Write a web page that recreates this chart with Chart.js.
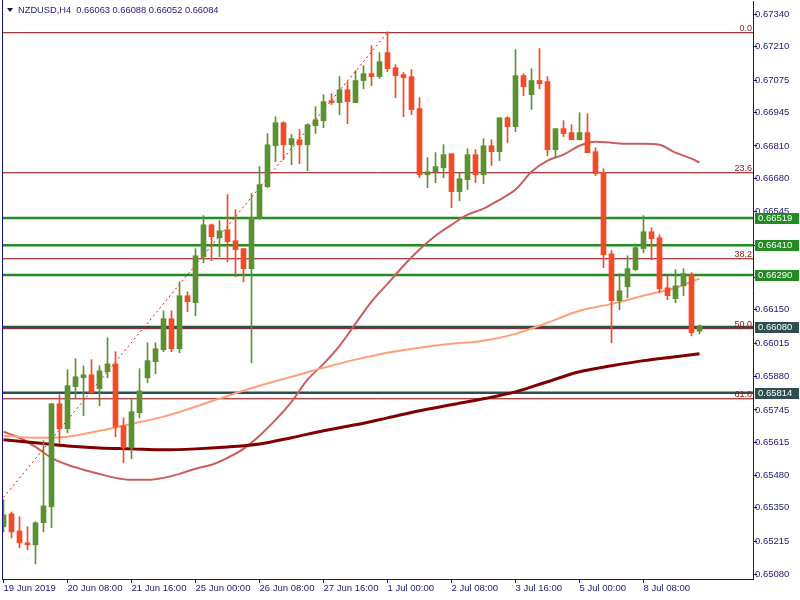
<!DOCTYPE html>
<html>
<head>
<meta charset="utf-8">
<script src="https://cdn.jsdelivr.net/npm/chart.js@4.4.1/dist/chart.umd.min.js"></script>
<style>
  html, body { margin: 0; padding: 0; background: #fff; }
  #wrap { width: 800px; height: 600px; }
</style>
</head>
<body>
<div id="wrap"><canvas id="grafiek"></canvas></div>
<script>
// NZDUSD H4 candles, index 0 = 19 Jun 2019 00:00
const OPEN = [0.65274,0.65326,0.65257,0.65209,0.65201,0.65290,0.65354,0.65770,0.65669,0.65839,
  0.65875,0.65887,0.65831,0.65899,0.65931,0.65681,0.65592,0.65734,0.65875,0.65940,
  0.65988,0.66113,0.65992,0.66206,0.66178,0.66363,0.66492,0.66440,0.66472,0.66428,
  0.66396,0.66315,0.66517,0.66646,0.66811,0.66904,0.66815,0.66835,0.66815,0.66892,
  0.66912,0.66993,0.66985,0.67037,0.66985,0.67074,0.67102,0.67090,0.67187,0.67126,
  0.67098,0.67090,0.66961,0.66694,0.66706,0.66722,0.66779,0.66626,0.66674,0.66775,
  0.66694,0.66811,0.66787,0.66924,0.66888,0.67094,0.67017,0.67074,0.67070,0.66795,
  0.66880,0.66864,0.66835,0.66864,0.66787,0.66702,0.66375,0.66186,0.66242,0.66311,
  0.66396,0.66464,0.66440,0.66238,0.66194,0.66246,0.66291,0.66063];
const HIGH = [0.65383,0.65334,0.65314,0.65274,0.65294,0.65621,0.65770,0.65806,0.65907,0.65952,
  0.65923,0.65948,0.65923,0.66036,0.65980,0.65713,0.65790,0.65911,0.66016,0.66016,
  0.66145,0.66145,0.66262,0.66222,0.66396,0.66529,0.66496,0.66509,0.66614,0.66553,
  0.66396,0.66618,0.66727,0.66860,0.66928,0.66908,0.66856,0.66876,0.66900,0.66969,
  0.67017,0.67021,0.67090,0.67070,0.67114,0.67134,0.67215,0.67187,0.67271,0.67138,
  0.67106,0.67118,0.67005,0.66763,0.66783,0.66815,0.66779,0.66702,0.66799,0.66795,
  0.66840,0.66835,0.66924,0.66928,0.67199,0.67102,0.67122,0.67203,0.67090,0.66880,
  0.66912,0.66896,0.66944,0.66940,0.66803,0.66718,0.66388,0.66295,0.66367,0.66416,
  0.66529,0.66480,0.66452,0.66287,0.66311,0.66315,0.66299,0.66088];
const LOW = [0.65253,0.65229,0.65189,0.65181,0.65124,0.65253,0.65270,0.65609,0.65653,0.65794,
  0.65722,0.65814,0.65762,0.65875,0.65637,0.65532,0.65548,0.65713,0.65855,0.65891,
  0.65980,0.65980,0.65976,0.66141,0.66125,0.66339,0.66347,0.66363,0.66343,0.66283,
  0.66262,0.65935,0.66513,0.66642,0.66747,0.66755,0.66735,0.66739,0.66710,0.66860,
  0.66884,0.66977,0.66936,0.66900,0.66985,0.67041,0.67053,0.67082,0.67110,0.67005,
  0.66928,0.66936,0.66682,0.66642,0.66662,0.66682,0.66561,0.66589,0.66634,0.66662,
  0.66658,0.66731,0.66751,0.66823,0.66868,0.67013,0.66957,0.67041,0.66771,0.66767,
  0.66848,0.66835,0.66835,0.66783,0.66690,0.66319,0.66016,0.66149,0.66198,0.66307,
  0.66379,0.66351,0.66218,0.66190,0.66178,0.66206,0.66044,0.66052];
const CLOSE = [0.65322,0.65253,0.65209,0.65201,0.65290,0.65358,0.65770,0.65669,0.65843,0.65879,
  0.65887,0.65814,0.65903,0.65931,0.65677,0.65592,0.65738,0.65822,0.65944,0.65992,
  0.66113,0.65992,0.66206,0.66182,0.66367,0.66492,0.66444,0.66468,0.66424,0.66392,
  0.66315,0.66521,0.66654,0.66815,0.66904,0.66815,0.66840,0.66815,0.66896,0.66916,
  0.66989,0.66985,0.67037,0.66989,0.67074,0.67102,0.67090,0.67150,0.67122,0.67094,
  0.67086,0.66957,0.66694,0.66706,0.66727,0.66775,0.66626,0.66678,0.66775,0.66694,
  0.66811,0.66787,0.66924,0.66888,0.67094,0.67049,0.67074,0.67061,0.66795,0.66880,
  0.66860,0.66835,0.66864,0.66783,0.66698,0.66371,0.66186,0.66226,0.66315,0.66400,
  0.66464,0.66436,0.66234,0.66206,0.66246,0.66295,0.66057,0.66084];

// moving averages, read at a few bars
const MA_SNEL_IDX = [0,2,4,6,8,10,12,14,16,18,20,22,24,26,28,30,32,34,36,38,40,42,44,46,48,50,52,54,56,58,60,62,64,66,68,70,72,74,76,78,80,82,84,86,87];
const MA_SNEL = [0.65657,0.65633,0.65596,0.65552,0.65524,0.65504,0.65487,0.65471,0.65463,0.65463,
  0.65471,0.65487,0.65508,0.65524,0.65552,0.65588,0.65641,0.65705,0.65778,0.65867,
  0.65931,0.66004,0.66093,0.66182,0.66254,0.66327,0.66392,0.66448,0.66492,0.66533,
  0.66557,0.66593,0.66634,0.66706,0.66751,0.66775,0.66811,0.66827,0.66823,0.66819,
  0.66819,0.66815,0.66783,0.66759,0.66743];
const MA_IDX = [0,4,8,12,16,20,24,28,32,36,40,44,48,52,56,60,64,68,72,76,80,84,87];
const MA_MIDDEL = [0.65641,0.65633,0.65637,0.65661,0.65689,0.65718,0.65758,0.65802,0.65843,0.65879,
  0.65915,0.65948,0.65976,0.65996,0.66012,0.66024,0.66052,0.66097,0.66145,0.66173,
  0.66206,0.66238,0.66275];
const MA_TRAAG = [0.65625,0.65613,0.65600,0.65592,0.65588,0.65584,0.65588,0.65596,0.65608,0.65633,
  0.65661,0.65685,0.65713,0.65742,0.65766,0.65790,0.65818,0.65859,0.65899,0.65923,
  0.65944,0.65960,0.65972];

// trendlijn (index, koers)
const TREND_IDX = [0, 48];
const TREND = [0.65392, 0.67268];

const FIB_LEVELS = [0.67267, 0.66702, 0.66355, 0.66073, 0.65790];
const FIB_NAMEN = ['0.0', '23.6', '38.2', '50.0', '61.8'];
const GROEN_LEVELS = [0.66519, 0.66410, 0.66290];
const GRIJS_LEVELS = [0.66080, 0.65814];

const Y_TICKS = [0.67340,0.67210,0.67075,0.66945,0.66810,0.66680,0.66545,0.66410,0.66280,
  0.66150,0.66015,0.65880,0.65745,0.65615,0.65480,0.65350,0.65215,0.65080];
const X_TICK_IDX = [0, 8, 16, 24, 32, 40, 48, 56, 64, 72, 80];
const X_TICK_LABELS = ['19 Jun 2019', '20 Jun 08:00', '21 Jun 16:00', '25 Jun 00:00', '26 Jun 08:00',
  '27 Jun 16:00', '1 Jul 00:00', '2 Jul 08:00', '3 Jul 16:00', '5 Jul 00:00', '8 Jul 08:00'];

const TITEL = 'NZDUSD,H4  0.66063 0.66088 0.66052 0.66084';

const X_MIN = -0.1875, X_MAX = 93.6875;
const Y_MIN = 0.65063, Y_MAX = 0.67395;

const GROEN = '#5B9132';
const ROOD = '#F24B27';
const AS_KLEUR = '#14147a';
const TEKST_KLEUR = '#1c1c78';
const FONT = '"Liberation Sans", Arial, sans-serif';

const kleurKaars = ctx => {
  const i = ctx.dataIndex;
  return CLOSE[i] >= OPEN[i] ? GROEN : ROOD;
};

function niveauLijn(v, kleur, dikte, volgorde) {
  return {
    type: 'line',
    data: [{ x: X_MIN, y: v }, { x: X_MAX, y: v }],
    borderColor: kleur,
    borderWidth: dikte,
    pointRadius: 0,
    order: volgorde,
  };
}

function maLijn(idx, waarden, kleur, dikte) {
  return {
    type: 'line',
    data: idx.map((x, i) => ({ x, y: waarden[i] })),
    borderColor: kleur,
    borderWidth: dikte,
    pointRadius: 0,
    cubicInterpolationMode: 'monotone',
    order: 5,
  };
}

// geen extra ruimte rond de assen
function zetMaat(s, breedte, hoogte) {
  if (breedte) s.width = breedte;
  if (hoogte) s.height = hoogte;
  s.paddingLeft = 0;
  s.paddingRight = 0;
  s.paddingTop = 0;
  s.paddingBottom = 0;
}

const versiering = {
  id: 'versiering',
  afterDraw(chart) {
    const { ctx, chartArea: a, scales: { y } } = chart;
    ctx.save();
    // linker rand
    ctx.strokeStyle = AS_KLEUR;
    ctx.lineWidth = 1;
    ctx.beginPath();
    ctx.moveTo(a.left + 0.5, 0);
    ctx.lineTo(a.left + 0.5, a.bottom);
    ctx.stroke();

    // titel met driehoekje
    ctx.fillStyle = '#101060';
    ctx.beginPath();
    ctx.moveTo(7, 8); ctx.lineTo(13, 8); ctx.lineTo(10, 12); ctx.closePath();
    ctx.fill();
    ctx.font = '9.3px ' + FONT;
    ctx.fillStyle = TEKST_KLEUR;
    ctx.textBaseline = 'middle';
    ctx.textAlign = 'left';
    ctx.fillText(TITEL, 18, 10.5);

    // fibo teksten
    ctx.font = '9px ' + FONT;
    ctx.fillStyle = '#8a2016';
    ctx.textAlign = 'right';
    ctx.textBaseline = 'alphabetic';
    FIB_LEVELS.forEach((v, i) => {
      ctx.fillText(FIB_NAMEN[i], a.right - 1, y.getPixelForValue(v) - 2);
    });

    // labels op de prijsas
    const labels = GROEN_LEVELS.map(v => [v, '#228B22']).concat(GRIJS_LEVELS.map(v => [v, '#2F4F4F']));
    ctx.font = '9.5px ' + FONT;
    ctx.textAlign = 'left';
    ctx.textBaseline = 'middle';
    labels.forEach(([v, kleur]) => {
      const py = Math.round(y.getPixelForValue(v));
      ctx.fillStyle = kleur;
      ctx.fillRect(a.right + 2, py - 5, 44, 11);
      ctx.fillStyle = '#ffffff';
      ctx.fillText(v.toFixed(5), a.right + 5, py + 0.5);
    });
    ctx.restore();
  }
};

const datasets = [
  {
    type: 'bar',
    data: OPEN.map((o, i) => ({ x: i, y: [o, CLOSE[i]] })),
    backgroundColor: kleurKaars,
    barThickness: 5,
    minBarLength: 1,
    grouped: false,
    order: 0,
  },
  {
    type: 'bar',
    data: LOW.map((l, i) => ({ x: i, y: [l, HIGH[i]] })),
    backgroundColor: kleurKaars,
    barThickness: 1,
    grouped: false,
    order: 1,
  },
  {
    type: 'line',
    data: TREND_IDX.map((x, i) => ({ x, y: TREND[i] })),
    borderColor: '#FF0000',
    borderWidth: 1,
    borderDash: [2, 3],
    pointRadius: 0,
    order: 3,
  },
  maLijn(MA_IDX, MA_MIDDEL, '#FFA07A', 2),
  maLijn(MA_IDX, MA_TRAAG, '#800000', 3),
  maLijn(MA_SNEL_IDX, MA_SNEL, '#CD5C5C', 2),
  ...FIB_LEVELS.map(v => niveauLijn(v, '#8B0000', 1, 8)),
  ...GROEN_LEVELS.map(v => niveauLijn(v, '#228B22', 2.5, 7)),
  ...GRIJS_LEVELS.map(v => niveauLijn(v, '#2F4F4F', 2.5, 7)),
];

new Chart(document.getElementById('grafiek'), {
  data: { datasets },
  options: {
    responsive: true,
    maintainAspectRatio: false,
    animation: false,
    layout: { padding: { left: 2, top: 1, right: 0, bottom: 0 } },
    plugins: { legend: { display: false }, tooltip: { enabled: false } },
    scales: {
      x: {
        type: 'linear',
        offset: false,
        min: X_MIN,
        max: X_MAX,
        afterBuildTicks: s => { s.ticks = X_TICK_IDX.map(v => ({ value: v })); },
        afterFit: s => zetMaat(s, 0, 21),
        grid: { offset: false, drawOnChartArea: false, drawTicks: true, tickLength: 4, color: AS_KLEUR },
        border: { display: true, color: AS_KLEUR },
        ticks: {
          align: 'start',
          padding: 0,
          maxRotation: 0,
          autoSkip: false,
          color: TEKST_KLEUR,
          font: { family: FONT, size: 9.5 },
          callback: v => X_TICK_LABELS[X_TICK_IDX.indexOf(v)] ?? '',
        },
      },
      y: {
        type: 'linear',
        position: 'right',
        min: Y_MIN,
        max: Y_MAX,
        afterBuildTicks: s => { s.ticks = Y_TICKS.map(v => ({ value: v })); },
        afterFit: s => zetMaat(s, 47, 0),
        grid: { drawOnChartArea: false, drawTicks: true, tickLength: 4, color: AS_KLEUR },
        border: { display: true, color: AS_KLEUR },
        ticks: {
          padding: -2,
          autoSkip: false,
          color: TEKST_KLEUR,
          font: { family: FONT, size: 9.5 },
          callback: v => v.toFixed(5),
        },
      },
    },
  },
  plugins: [versiering],
});
</script>
</body>
</html>
